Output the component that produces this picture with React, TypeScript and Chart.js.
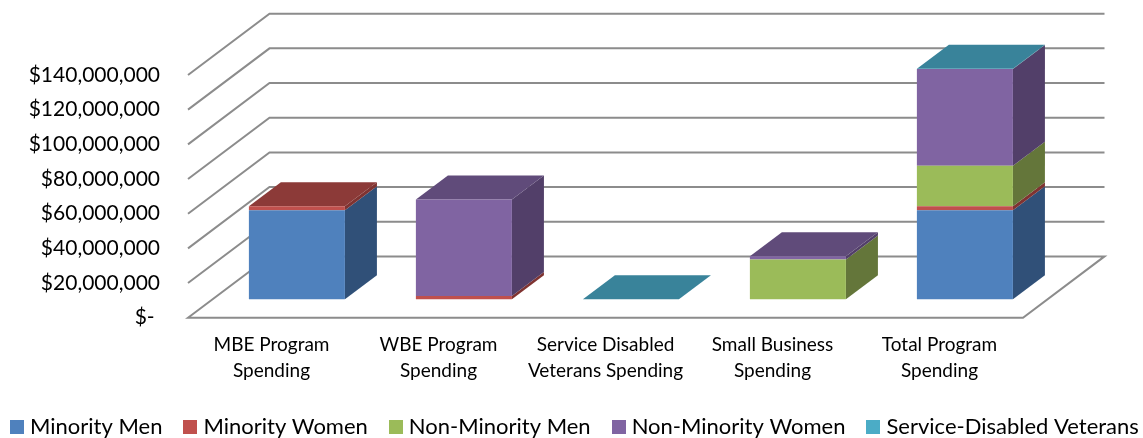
import React, { useEffect, useRef } from "react";
import { Chart, registerables } from "chart.js";

Chart.register(...registerables);

const categories = [
  ["MBE Program", "Spending"],
  ["WBE Program", "Spending"],
  ["Service Disabled", "Veterans Spending"],
  ["Small Business", "Spending"],
  ["Total Program", "Spending"],
];
const minorityMen = [51400000, 0, 0, 0, 51400000];
const minorityWomen = [2300000, 1900000, 0, 0, 2300000];
const nonMinorityMen = [0, 0, 0, 23000000, 23300000];
const nonMinorityWomen = [0, 55600000, 0, 1900000, 55900000];
const serviceDisabledVeterans = [0, 0, 100000, 0, 100000];

const FRONT = ["#4F81BD", "#C0504D", "#9BBB59", "#8064A2", "#4BACC6"];
const SIDE = ["#305078", "#7F3331", "#64763A", "#523F69", "#2F6D7E"];
const TOP = ["#3C618E", "#8C3A38", "#738A42", "#604B7A", "#39839A"];

const WALL_DX = 81.5;
const WALL_DY = 61.3;
const BAR_DX = 25.4;
const BAR_DY = 18.4;
const DEPTH_DX = 32;
const DEPTH_DY = 24;
const GRID = "#8C8C8C";
const SWATCH = 14;
const CANVAS_WIDTH = 1200;
const CANVAS_SHIFT = 11;

const poly = (ctx: CanvasRenderingContext2D, pts: number[][], fill: string) => {
  ctx.beginPath();
  pts.forEach(([x, y], i) => (i ? ctx.lineTo(x, y) : ctx.moveTo(x, y)));
  ctx.closePath();
  ctx.fillStyle = fill;
  ctx.fill();
};

const swatch = (color: string) => {
  const c = document.createElement("canvas");
  c.width = SWATCH;
  c.height = SWATCH;
  const g = c.getContext("2d")!;
  g.fillStyle = color;
  g.fillRect(0, 0, SWATCH, SWATCH);
  return c;
};

const box3d = {
  id: "box3d",
  beforeDatasetsDraw(chart: any) {
    const { ctx, chartArea: a, scales } = chart;
    ctx.save();
    ctx.strokeStyle = GRID;
    ctx.lineWidth = 2;
    scales.y.ticks.forEach((t: any) => {
      const y = scales.y.getPixelForValue(t.value);
      ctx.beginPath();
      ctx.moveTo(a.left, y);
      ctx.lineTo(a.left + WALL_DX, y - WALL_DY);
      ctx.lineTo(a.right + WALL_DX, y - WALL_DY);
      if (t.value === 0) {
        ctx.lineTo(a.right, y);
        ctx.closePath();
      }
      ctx.stroke();
    });
    ctx.translate(BAR_DX, -BAR_DY);
    const metas = chart.getSortedVisibleDatasetMetas();
    categories.forEach((_, c) => {
      let topIdx = -1;
      metas.forEach((m: any, i: number) => {
        if ((chart.data.datasets[m.index].data[c] as number) > 0) topIdx = i;
      });
      metas.forEach((m: any, i: number) => {
        if ((chart.data.datasets[m.index].data[c] as number) <= 0) return;
        const b = m.data[c].getProps(["x", "y", "base", "width"], true);
        const l = b.x - b.width / 2;
        const r = b.x + b.width / 2;
        poly(ctx, [[r, b.y], [r + DEPTH_DX, b.y - DEPTH_DY], [r + DEPTH_DX, b.base - DEPTH_DY], [r, b.base]], SIDE[m.index]);
        if (i === topIdx) {
          poly(ctx, [[l, b.y], [l + DEPTH_DX, b.y - DEPTH_DY], [r + DEPTH_DX, b.y - DEPTH_DY], [r, b.y]], TOP[m.index]);
        }
      });
    });
  },
  afterDatasetsDraw(chart: any) {
    chart.ctx.restore();
  },
};

const money = (v: number) => (v === 0 ? "$- " : "$" + v.toLocaleString("en-US"));

export default function App() {
  const ref = useRef<HTMLCanvasElement>(null);
  useEffect(() => {
    const series = [
      ["Minority Men", minorityMen],
      ["Minority Women", minorityWomen],
      ["Non-Minority Men", nonMinorityMen],
      ["Non-Minority Women", nonMinorityWomen],
      ["Service-Disabled Veterans", serviceDisabledVeterans],
    ] as [string, number[]][];
    const chart = new Chart(ref.current!, {
      type: "bar",
      data: {
        labels: categories,
        datasets: series.map(([label, data], i) => ({
          label,
          data,
          backgroundColor: FRONT[i],
          borderWidth: 0,
          inflateAmount: 0,
          clip: false,
          categoryPercentage: 1,
          barPercentage: 0.575,
        })),
      } as any,
      options: {
        animation: false,
        responsive: false,
        layout: { padding: { top: 75, bottom: -10 } },
        plugins: {
          tooltip: { enabled: false },
          legend: {
            position: "bottom",
            align: "start",
            labels: {
              usePointStyle: true,
              pointStyleWidth: 4,
              boxHeight: SWATCH,
              padding: 26,
              color: "#000",
              font: { family: "Lato", size: 22 },
              generateLabels: (c: any) =>
                Chart.defaults.plugins.legend.labels
                  .generateLabels(c)
                  .map((item: any, i: number) => ({ ...item, pointStyle: swatch(FRONT[i]) })),
            },
          },
        },
        scales: {
          x: {
            stacked: true,
            grid: { display: false, drawTicks: false },
            border: { display: false },
            ticks: {
              color: "#000",
              padding: 14.5,
              maxRotation: 0,
              autoSkip: false,
              font: { family: "Lato", size: 19, lineHeight: 1.37 },
            },
            afterFit: (s: any) => { s.height = 72.3; },
          },
          y: {
            stacked: true,
            min: 0,
            max: 140000000,
            grid: { display: false, drawTicks: false },
            border: { display: false },
            ticks: {
              stepSize: 20000000,
              color: "#000",
              padding: 28,
              font: { family: "Lato", size: 21 },
              callback: (v: any) => money(Number(v)),
            },
            afterFit: (s: any) => { s.width = 188 + CANVAS_SHIFT; },
          },
          rightSpace: {
            position: "right",
            display: true,
            grid: { display: false, drawTicks: false },
            border: { display: false },
            ticks: { display: false },
            afterFit: (s: any) => { s.width = CANVAS_WIDTH - 1023 - CANVAS_SHIFT; },
          },
        },
      } as any,
      plugins: [box3d],
    });
    return () => chart.destroy();
  }, []);
  return (
    <div style={{ position: "fixed", left: 0, top: 0, width: 1143, height: 438, overflow: "hidden", background: "#fff" }}>
      <canvas ref={ref} width={CANVAS_WIDTH} height={438} style={{ display: "block", marginLeft: -CANVAS_SHIFT }} />
    </div>
  );
}
